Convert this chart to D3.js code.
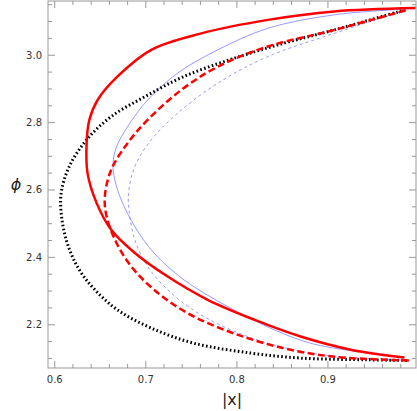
<!DOCTYPE html>
<html><head><meta charset="utf-8">
<script src="https://cdn.jsdelivr.net/npm/d3@7"></script>
<style>body{margin:0;background:#fff}svg{font-family:"DejaVu Sans",sans-serif}</style>
</head><body><svg width="417" height="411"></svg>
<script>
// [|x|, phi]
const blackDotted = [[0.985,3.135],[0.907,3.075],[0.852,3.036],[0.797,2.991],[0.742,2.937],[0.699,2.877],[0.662,2.818],[0.635,2.749],[0.616,2.670],[0.607,2.590],[0.608,2.511],[0.615,2.432],[0.627,2.363],[0.644,2.304],[0.669,2.244],[0.706,2.190],[0.753,2.145],[0.815,2.116],[0.870,2.101],[0.943,2.096],[0.989,2.094]];
const redSolid = [[0.996,3.140],[0.907,3.130],[0.834,3.105],[0.761,3.065],[0.706,3.016],[0.669,2.937],[0.647,2.867],[0.638,2.808],[0.635,2.739],[0.636,2.650],[0.646,2.561],[0.662,2.482],[0.688,2.413],[0.724,2.343],[0.768,2.274],[0.819,2.215],[0.870,2.165],[0.925,2.126],[0.984,2.103]];
const blueSolid = [[0.985,3.137],[0.907,3.120],[0.834,3.080],[0.779,3.016],[0.735,2.947],[0.702,2.867],[0.680,2.788],[0.668,2.729],[0.664,2.679],[0.666,2.630],[0.673,2.571],[0.688,2.491],[0.709,2.413],[0.742,2.333],[0.790,2.254],[0.841,2.185],[0.881,2.145],[0.925,2.123],[0.984,2.103]];
const redDashed = [[0.985,3.133],[0.907,3.075],[0.834,3.026],[0.779,2.966],[0.739,2.897],[0.702,2.808],[0.680,2.739],[0.662,2.660],[0.655,2.580],[0.657,2.521],[0.668,2.442],[0.684,2.373],[0.709,2.304],[0.746,2.234],[0.797,2.174],[0.852,2.130],[0.907,2.105],[0.989,2.094]];
const blueDashed = [[0.985,3.133],[0.907,3.065],[0.834,2.996],[0.779,2.917],[0.735,2.828],[0.706,2.749],[0.688,2.670],[0.681,2.590],[0.682,2.531],[0.688,2.452],[0.702,2.373],[0.728,2.294],[0.764,2.224],[0.812,2.165],[0.863,2.125],[0.907,2.107],[0.985,2.095]];
const xTicks = [0.6, 0.7, 0.8, 0.9];
const yTicks = [2.2, 2.4, 2.6, 2.8, 3.0];

const svg = d3.select('svg');
const margin = {top: 1, right: 1, bottom: 43, left: 48};
const x = d3.scaleLinear().domain([0.5926, 0.9967]).range([margin.left, 417 - margin.right]);
const y = d3.scaleLinear().domain([2.0716, 3.161]).range([411 - margin.bottom, margin.top]);
const x0 = x.range()[0], x1 = x.range()[1], y0 = y.range()[0], y1 = y.range()[1];

const g = svg.append('g');
const tickColor = '#999';
// minor and major ticks on all four sides
d3.range(0.6, 0.9961, 0.02).forEach(v => {
  const major = xTicks.some(t => Math.abs(t - v) < 1e-6);
  const len = major ? 7 : 4;
  g.append('line').attr('x1', x(v)).attr('x2', x(v)).attr('y1', y0).attr('y2', y0 - len).attr('stroke', tickColor);
  g.append('line').attr('x1', x(v)).attr('x2', x(v)).attr('y1', y1).attr('y2', y1 + len).attr('stroke', tickColor);
});
d3.range(2.1, 3.151, 0.05).forEach(v => {
  const major = yTicks.some(t => Math.abs(t - v) < 1e-6);
  const len = major ? 7 : 4;
  g.append('line').attr('y1', y(v)).attr('y2', y(v)).attr('x1', x0).attr('x2', x0 + len).attr('stroke', tickColor);
  g.append('line').attr('y1', y(v)).attr('y2', y(v)).attr('x1', x1).attr('x2', x1 - len).attr('stroke', tickColor);
});
g.append('rect').attr('x', x0).attr('y', y1).attr('width', x1 - x0).attr('height', y0 - y1)
  .attr('fill', 'none').attr('stroke', tickColor);

g.selectAll('.xl').data(xTicks).enter().append('text')
  .attr('x', d => x(d)).attr('y', y0 + 15).attr('text-anchor', 'middle')
  .attr('font-size', 10).attr('fill', '#333').text(d => d.toFixed(1));
g.selectAll('.yl').data(yTicks).enter().append('text')
  .attr('x', x0 - 6).attr('y', d => y(d) + 3.5).attr('text-anchor', 'end')
  .attr('font-size', 10).attr('fill', '#333').text(d => d.toFixed(1));

svg.append('text').attr('x', (x0 + x1) / 2).attr('y', 405).attr('text-anchor', 'middle')
  .attr('font-size', 16).attr('fill', '#222').text('|x|');
svg.append('text').attr('x', 16).attr('y', (y0 + y1) / 2 + 5).attr('text-anchor', 'middle')
  .attr('font-size', 16).attr('font-style', 'italic').attr('fill', '#222').text('ϕ');

const line = d3.line().x(d => x(d[0])).y(d => y(d[1])).curve(d3.curveCatmullRom.alpha(0.5));
const series = [
  {data: blueDashed, color: '#7f7fff', width: 0.8, dash: '3,3'},
  {data: blueSolid, color: '#7f7fff', width: 0.8, dash: null},
  {data: blackDotted, color: '#000', width: 3, dash: '1.6,2.4'},
  {data: redDashed, color: '#f00', width: 2.5, dash: '7,3.5'},
  {data: redSolid, color: '#f00', width: 2.5, dash: null}
];
series.forEach(s => {
  svg.append('path').attr('d', line(s.data)).attr('fill', 'none')
    .attr('stroke', s.color).attr('stroke-width', s.width)
    .attr('stroke-dasharray', s.dash);
});
</script></body></html>
